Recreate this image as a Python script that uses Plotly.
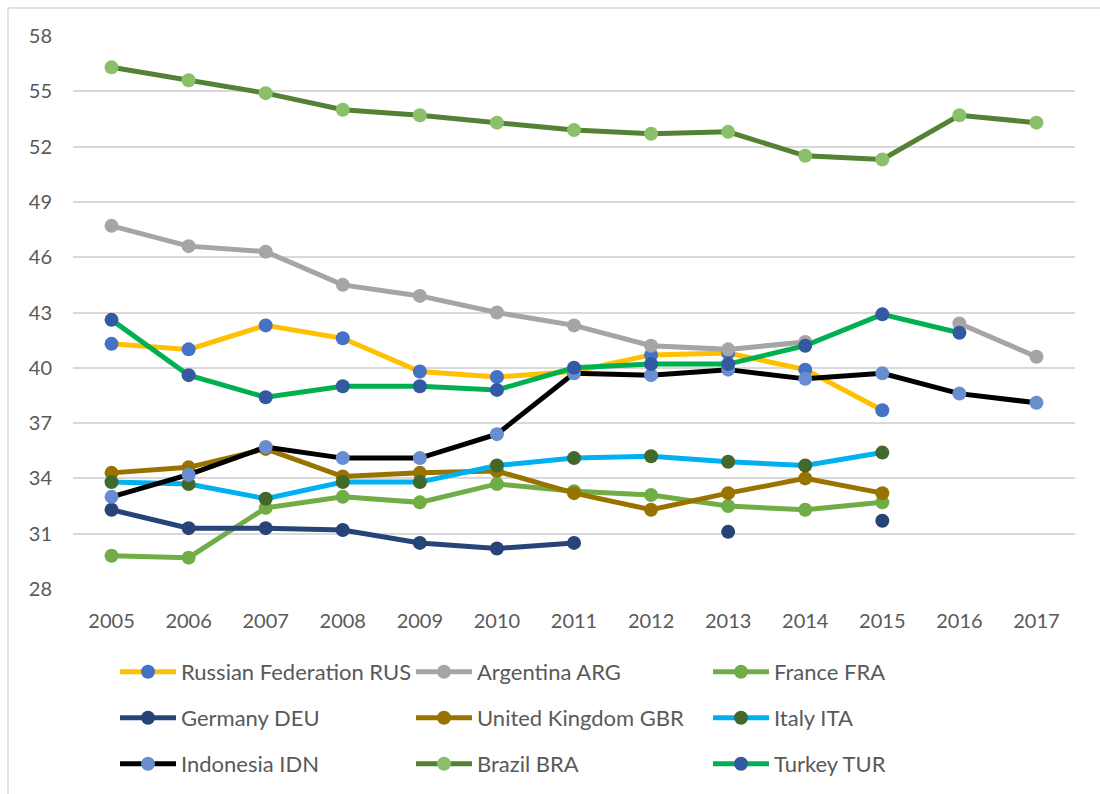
import plotly.graph_objects as go

years = ["2005", "2006", "2007", "2008", "2009", "2010", "2011", "2012", "2013", "2014", "2015", "2016", "2017"]

rus = [41.3, 41.0, 42.3, 41.6, 39.8, 39.5, 39.8, 40.7, 40.8, 39.9, 37.7, None, None]
arg = [47.7, 46.6, 46.3, 44.5, 43.9, 43.0, 42.3, 41.2, 41.0, 41.4, None, 42.4, 40.6]
fra = [29.8, 29.7, 32.4, 33.0, 32.7, 33.7, 33.3, 33.1, 32.5, 32.3, 32.7, None, None]
deu = [32.3, 31.3, 31.3, 31.2, 30.5, 30.2, 30.5, None, 31.1, None, 31.7, None, None]
gbr = [34.3, 34.6, 35.6, 34.1, 34.3, 34.4, 33.2, 32.3, 33.2, 34.0, 33.2, None, None]
ita = [33.8, 33.7, 32.9, 33.8, 33.8, 34.7, 35.1, 35.2, 34.9, 34.7, 35.4, None, None]
idn = [33.0, 34.2, 35.7, 35.1, 35.1, 36.4, 39.7, 39.6, 39.9, 39.4, 39.7, 38.6, 38.1]
bra = [56.3, 55.6, 54.9, 54.0, 53.7, 53.3, 52.9, 52.7, 52.8, 51.5, 51.3, 53.7, 53.3]
tur = [42.6, 39.6, 38.4, 39.0, 39.0, 38.8, 40.0, 40.2, 40.2, 41.2, 42.9, 41.9, None]

y_ticks = [28, 31, 34, 37, 40, 43, 46, 49, 52, 55, 58]

series = [
    ("Russian Federation RUS", rus, "#FFC000", "#4472C4"),
    ("Argentina ARG", arg, "#A5A5A5", "#A5A5A5"),
    ("France FRA", fra, "#70AD47", "#70AD47"),
    ("Germany DEU", deu, "#264478", "#264478"),
    ("United Kingdom GBR", gbr, "#997300", "#997300"),
    ("Italy ITA", ita, "#00B0F0", "#43682B"),
    ("Indonesia IDN", idn, "#000000", "#698ED0"),
    ("Brazil BRA", bra, "#548235", "#8BC06A"),
    ("Turkey TUR", tur, "#00B050", "#3359A1"),
]

W, H = 1100, 794
FONT = "Lato"
TXT = "#595959"

fig = go.Figure()
col_x = [115, 411, 708]
row_y = [672, 718, 764]
layout_legends = {}
for i, (name, vals, lc, mc) in enumerate(series):
    lname = "legend" if i == 0 else f"legend{i+1}"
    fig.add_trace(go.Scatter(
        x=years, y=vals, name=name, mode="lines+markers",
        line=dict(color=lc, width=5),
        marker=dict(color=mc, size=14),
        connectgaps=False, legend=lname, hoverinfo="x+y+name",
    ))
    r, c = divmod(i, 3)
    layout_legends[lname] = dict(
        x=col_x[c] / W, y=1 - row_y[r] / H, xref="container", yref="container",
        xanchor="left", yanchor="middle", bgcolor="rgba(0,0,0,0)",
        itemwidth=56,
        font=dict(family=FONT, size=22, color=TXT),
    )

fig.update_layout(
    width=W, height=H,
    margin=dict(l=73, r=25, t=36, b=205, autoexpand=False),
    paper_bgcolor="white", plot_bgcolor="white",
    font=dict(family=FONT, size=20, color=TXT),
    showlegend=True,
    xaxis=dict(type="category", range=[-0.5, len(years) - 0.5], showgrid=False,
               zeroline=False, showline=False,
               tickfont=dict(family=FONT, size=20, color=TXT), ticks="", tickangle=0,
               ticklabelstandoff=18),
    yaxis=dict(range=[28, 58], tickvals=y_ticks, ticktext=[str(v) for v in y_ticks],
               showgrid=True, gridcolor="#D9D9D9", gridwidth=1.5, zeroline=False,
               showline=False, tickfont=dict(family=FONT, size=20, color=TXT),
               ticks="", ticklabelstandoff=20),
    shapes=[
        dict(type="line", xref="paper", yref="paper", x0=-65/1002, x1=1.1, y0=1+28/553, y1=1+28/553,
             line=dict(color="#D9D9D9", width=1.5)),
        dict(type="line", xref="paper", yref="paper", x0=-65/1002, x1=-65/1002, y0=1+28/553, y1=-0.4,
             line=dict(color="#D9D9D9", width=1.5)),
    ],
    **layout_legends,
)

fig.write_html("out.html")
